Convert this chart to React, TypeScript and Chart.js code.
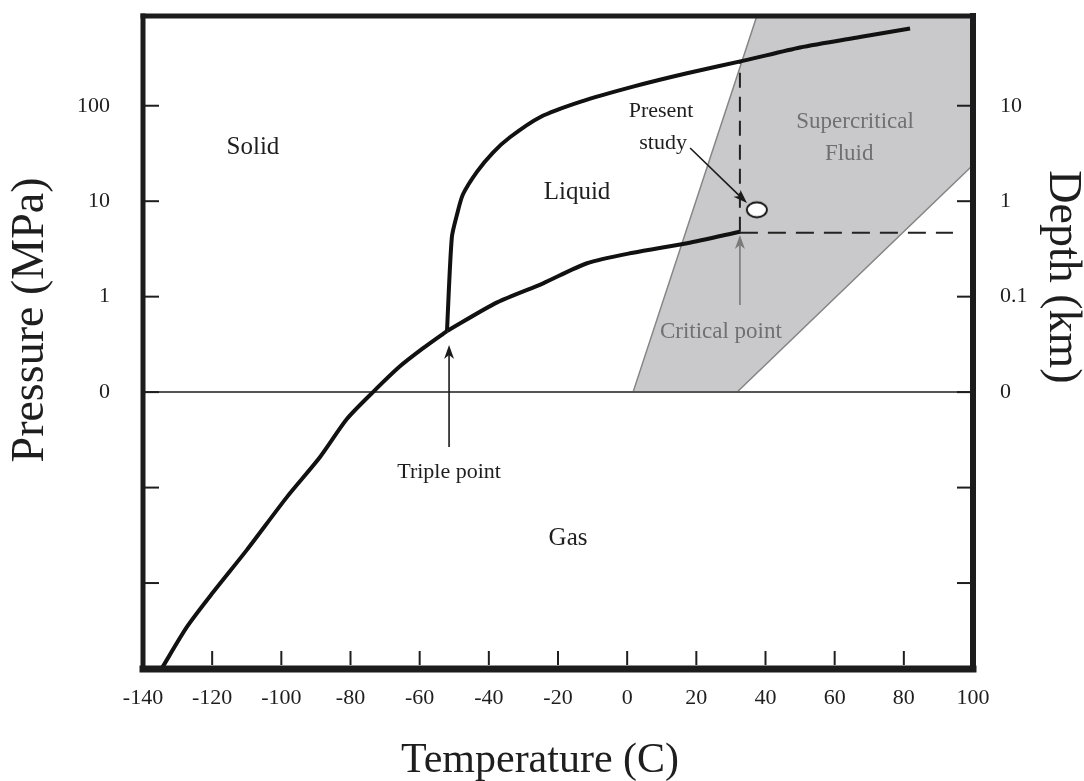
import React, { useEffect, useRef } from 'react';
import { Chart, registerables } from 'chart.js';

Chart.register(...registerables);

// ---- axes ----
const X_TICKS = [-140, -120, -100, -80, -60, -40, -20, 0, 20, 40, 60, 80, 100];
const Y_TICKS = [-2, -1, 0, 1, 2, 3];
const PRESSURE_LABELS = ['', '', '0', '1', '10', '100'];
const DEPTH_LABELS = ['', '', '0', '0.1', '1', '10'];

// ---- phase boundaries (temperature C, pressure axis units) ----
const SUBLIMATION_T = [-134.5, -127.3, -119.8, -109.9, -98.4, -88.8, -81.0, -73.5, -65.7, -59.0, -52.1];
const SUBLIMATION_P = [-2.89, -2.46, -2.10, -1.65, -1.10, -0.68, -0.28, 0.0, 0.27, 0.46, 0.64];

const VAPOR_T = [-52.1, -37.6, -24.3, -11.6, 1.7, 17.3, 32.6];
const VAPOR_P = [0.64, 0.94, 1.14, 1.35, 1.46, 1.56, 1.68];

const MELTING_T = [-52.1, -50.7, -49.2, -47.5, -43.4, -38.8, -33.9, -25.2, -13.6, 1.7, 17.3, 34.7, 50.0, 67.3, 81.8];
const MELTING_P = [0.64, 1.62, 1.86, 2.07, 2.31, 2.51, 2.67, 2.88, 3.04, 3.2, 3.34, 3.48, 3.61, 3.72, 3.81];

const SUPERCRITICAL_T = [1.7, 37.5, 100, 100, 31.8, 1.7];
const SUPERCRITICAL_P = [0, 3.94, 3.94, 2.38, 0, 0];

const ZERO_T = [-140, 100];
const ZERO_P = [0, 0];

const CRIT_VERTICAL_T = [32.6, 32.6];
const CRIT_VERTICAL_P = [1.68, 3.45];
const CRIT_HORIZONTAL_T = [32.6, 94.2];
const CRIT_HORIZONTAL_P = [1.67, 1.67];

const STUDY_T = [37.5];
const STUDY_P = [1.91];

// ---- annotations ----
const ARROW_FROM_T = [-51.5, 32.6, 18.2];
const ARROW_FROM_P = [-0.575, 0.913, 2.557];
const ARROW_TO_T = [-51.5, 32.6, 34.65];
const ARROW_TO_P = [0.494, 1.646, 1.981];

const LABEL_TEXT = ['Solid', 'Liquid', 'Gas', 'Triple point', 'Present', 'study', 'Supercritical', 'Fluid', 'Critical point'];
const LABEL_T = [-108.2, -14.5, -17.1, -51.5, 9.8, 10.4, 65.9, 64.2, 27.1];
const LABEL_P = [2.49, 2.02, -1.6, -0.9, 2.88, 2.55, 2.77, 2.43, 0.57];

const FONT = 'Liberation Serif';
const LABEL_STYLE = [
  { size: 25, color: '#1e1e1e' },
  { size: 25, color: '#1e1e1e' },
  { size: 25, color: '#1e1e1e' },
  { size: 22, color: '#1e1e1e' },
  { size: 22, color: '#1e1e1e' },
  { size: 22, color: '#1e1e1e' },
  { size: 23, color: '#707070' },
  { size: 23, color: '#707070' },
  { size: 23, color: '#707070' },
];
const ARROW_COLORS = ['#1a1a1a', '#7a7a7a', '#1a1a1a'];

const pts = (xs: number[], ys: number[]) => xs.map((v, i) => ({ x: v, y: ys[i] }));

function makeEllipse() {
  const c = document.createElement('canvas');
  c.width = 24;
  c.height = 20;
  const g = c.getContext('2d')!;
  g.beginPath();
  g.ellipse(12, 10, 10, 7.5, 0, 0, Math.PI * 2);
  g.fillStyle = '#ffffff';
  g.fill();
  g.lineWidth = 1.8;
  g.strokeStyle = '#111111';
  g.stroke();
  return c;
}

const zeroPad = (s: any) => {
  s.paddingTop = 0;
  s.paddingBottom = 0;
  s.paddingLeft = 0;
  s.paddingRight = 0;
};

const phasePlugin = {
  id: 'phasePlugin',
  afterDatasetsDraw(chart: any) {
    const { ctx, chartArea } = chart;
    const xs = chart.scales.x;
    const ys = chart.scales.y;
    ctx.save();

    // arrows
    ARROW_FROM_T.forEach((t, i) => {
      const x1 = xs.getPixelForValue(t);
      const y1 = ys.getPixelForValue(ARROW_FROM_P[i]);
      const x2 = xs.getPixelForValue(ARROW_TO_T[i]);
      const y2 = ys.getPixelForValue(ARROW_TO_P[i]);
      const a = Math.atan2(y2 - y1, x2 - x1);
      const hl = 14;
      const hw = 5;
      const bx = x2 - Math.cos(a) * hl;
      const by = y2 - Math.sin(a) * hl;
      ctx.strokeStyle = ARROW_COLORS[i];
      ctx.fillStyle = ARROW_COLORS[i];
      ctx.lineWidth = 1.6;
      ctx.beginPath();
      ctx.moveTo(x1, y1);
      ctx.lineTo(bx + Math.cos(a) * 4, by + Math.sin(a) * 4);
      ctx.stroke();
      ctx.beginPath();
      ctx.moveTo(x2, y2);
      ctx.lineTo(bx + Math.sin(a) * hw, by - Math.cos(a) * hw);
      ctx.lineTo(bx + Math.cos(a) * 4, by + Math.sin(a) * 4);
      ctx.lineTo(bx - Math.sin(a) * hw, by + Math.cos(a) * hw);
      ctx.closePath();
      ctx.fill();
    });

    // region labels
    ctx.textAlign = 'center';
    ctx.textBaseline = 'alphabetic';
    LABEL_TEXT.forEach((txt, i) => {
      const st = LABEL_STYLE[i];
      ctx.font = `${st.size}px "${FONT}"`;
      ctx.fillStyle = st.color;
      ctx.fillText(txt, xs.getPixelForValue(LABEL_T[i]), ys.getPixelForValue(LABEL_P[i]));
    });

    // inward tick marks
    ctx.strokeStyle = '#1e1e1e';
    ctx.lineWidth = 2;
    xs.ticks.forEach((tk: any, i: number) => {
      if (i === 0 || i === xs.ticks.length - 1) return;
      const px = xs.getPixelForValue(tk.value);
      ctx.beginPath();
      ctx.moveTo(px, chartArea.bottom - 3);
      ctx.lineTo(px, chartArea.bottom - 17);
      ctx.stroke();
    });
    ys.ticks.forEach((tk: any) => {
      const py = ys.getPixelForValue(tk.value);
      ctx.beginPath();
      ctx.moveTo(chartArea.left + 2, py);
      ctx.lineTo(chartArea.left + 16, py);
      ctx.stroke();
      ctx.beginPath();
      ctx.moveTo(chartArea.right - 3, py);
      ctx.lineTo(chartArea.right - 16, py);
      ctx.stroke();
    });
    ctx.restore();
  },
  afterDraw(chart: any) {
    const { ctx, chartArea } = chart;
    const { left, right, top, bottom } = chartArea;
    ctx.save();
    ctx.strokeStyle = '#1c1c1c';
    ctx.lineCap = 'square';
    const seg = (x1: number, y1: number, x2: number, y2: number, w: number) => {
      ctx.lineWidth = w;
      ctx.beginPath();
      ctx.moveTo(x1, y1);
      ctx.lineTo(x2, y2);
      ctx.stroke();
    };
    seg(left, top, right, top, 5);
    seg(left, top, left, bottom, 5);
    seg(left, bottom + 1, right, bottom + 1, 7);
    seg(right, top, right, bottom, 6);

    // axis titles
    ctx.fillStyle = '#1e1e1e';
    ctx.textAlign = 'center';
    ctx.textBaseline = 'alphabetic';
    ctx.font = `42px "${FONT}"`;
    ctx.fillText('Temperature (C)', 540, 772);

    ctx.font = `46px "${FONT}"`;
    ctx.save();
    ctx.translate(43, 320);
    ctx.rotate(-Math.PI / 2);
    ctx.fillText('Pressure (MPa)', 0, 0);
    ctx.restore();

    ctx.save();
    ctx.translate(1050, 277);
    ctx.rotate(Math.PI / 2);
    ctx.fillText('Depth (km)', 0, 0);
    ctx.restore();
    ctx.restore();
  },
};

export default function App() {
  const ref = useRef<HTMLCanvasElement | null>(null);

  useEffect(() => {
    if (!ref.current) return;
    const curve = (xs: number[], ys: number[]) => ({
      data: pts(xs, ys),
      showLine: true,
      borderColor: '#111111',
      borderWidth: 4,
      pointRadius: 0,
      tension: 0.25,
      fill: false,
    });
    const tickFont = { family: FONT, size: 22 };
    const chart = new Chart(ref.current, {
      type: 'scatter',
      data: {
        datasets: [
          {
            data: pts(STUDY_T, STUDY_P),
            pointStyle: makeEllipse() as any,
            pointRadius: 10,
            showLine: false,
          } as any,
          curve(SUBLIMATION_T, SUBLIMATION_P),
          curve(VAPOR_T, VAPOR_P),
          curve(MELTING_T, MELTING_P),
          {
            data: pts(CRIT_VERTICAL_T, CRIT_VERTICAL_P),
            showLine: true,
            borderColor: '#222222',
            borderWidth: 2,
            borderDash: [15, 9],
            pointRadius: 0,
          },
          {
            data: pts(CRIT_HORIZONTAL_T, CRIT_HORIZONTAL_P),
            showLine: true,
            borderColor: '#222222',
            borderWidth: 2,
            borderDash: [18, 10],
            pointRadius: 0,
          },
          {
            data: pts(ZERO_T, ZERO_P),
            showLine: true,
            borderColor: '#555555',
            borderWidth: 2,
            pointRadius: 0,
          },
          {
            data: pts(SUPERCRITICAL_T, SUPERCRITICAL_P),
            showLine: true,
            borderColor: '#858585',
            borderWidth: 1.5,
            backgroundColor: '#c9c9cb',
            fill: 'shape',
            pointRadius: 0,
            tension: 0,
          } as any,
        ],
      },
      options: {
        responsive: false,
        animation: false,
        events: [],
        layout: { padding: { top: 16, left: 0, right: 0, bottom: 0 } },
        plugins: { legend: { display: false }, tooltip: { enabled: false } },
        scales: {
          x: {
            type: 'linear',
            position: 'bottom',
            min: -140,
            max: 100,
            afterBuildTicks: (s: any) => {
              s.ticks = X_TICKS.map((v) => ({ value: v }));
            },
            afterFit: (s: any) => {
              s.height = 113;
              zeroPad(s);
            },
            grid: { display: false, drawTicks: false },
            border: { display: false },
            ticks: {
              autoSkip: false,
              maxRotation: 0,
              padding: 17,
              color: '#1e1e1e',
              font: tickFont,
              callback: (v: any) => String(v),
            },
          },
          y: {
            type: 'linear',
            position: 'left',
            min: -2.89,
            max: 3.94,
            afterBuildTicks: (s: any) => {
              s.ticks = Y_TICKS.map((v) => ({ value: v }));
            },
            afterFit: (s: any) => {
              s.width = 143;
              zeroPad(s);
            },
            grid: { display: false, drawTicks: false },
            border: { display: false },
            ticks: {
              padding: 33,
              color: '#1e1e1e',
              font: tickFont,
              callback: (v: any) => {
                const i = Y_TICKS.indexOf(Number(v));
                return i >= 0 ? PRESSURE_LABELS[i] : '';
              },
            },
          },
          y2: {
            type: 'linear',
            position: 'right',
            min: -2.89,
            max: 3.94,
            afterBuildTicks: (s: any) => {
              s.ticks = Y_TICKS.map((v) => ({ value: v }));
            },
            afterFit: (s: any) => {
              s.width = 111;
              zeroPad(s);
            },
            grid: { display: false, drawTicks: false },
            border: { display: false },
            ticks: {
              padding: 27,
              color: '#1e1e1e',
              font: tickFont,
              callback: (v: any) => {
                const i = Y_TICKS.indexOf(Number(v));
                return i >= 0 ? DEPTH_LABELS[i] : '';
              },
            },
          },
        },
      },
      plugins: [phasePlugin],
    } as any);
    return () => chart.destroy();
  }, []);

  return (
    <div style={{ position: 'fixed', left: 0, top: 0, width: 1084, height: 781, background: '#ffffff' }}>
      <canvas ref={ref} width={1084} height={781} style={{ width: 1084, height: 781, display: 'block' }} />
    </div>
  );
}
